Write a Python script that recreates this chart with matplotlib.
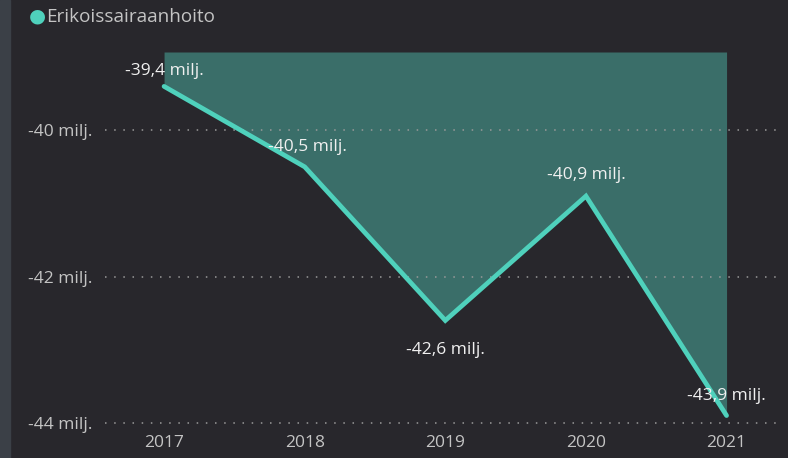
import matplotlib
matplotlib.use("Agg")
import matplotlib.pyplot as plt
from matplotlib.patches import Rectangle

years = [2017, 2018, 2019, 2020, 2021]
values = [-39.4, -40.5, -42.6, -40.9, -43.9]
labels = ["-39,4 milj.", "-40,5 milj.", "-42,6 milj.", "-40,9 milj.", "-43,9 milj."]
yticks = [-40, -42, -44]
ytick_labels = ["-40 milj.", "-42 milj.", "-44 milj."]
series_name = "Erikoissairaanhoito"

bg = "#28272c"
line_c = "#4fd1bc"
fill_c = "#3a6e69"
text_c = "#f0f0f0"
tick_c = "#c4c4c4"

plt.rcParams["font.family"] = ["Open Sans", "DejaVu Sans"]

fig = plt.figure(figsize=(7.88, 4.58), dpi=100, facecolor=bg)
ax = fig.add_axes([105 / 788, 1 - 428 / 458, 675 / 788, 376 / 458])
ax.set_facecolor(bg)

y_top = -38.93
ax.set_ylim(-44.07, y_top)
ax.set_xlim(2016.58, 2021.38)

ax.fill_between(years, values, y_top, color=fill_c, lw=0, zorder=1)
ax.plot(years, values, color=line_c, lw=3.4, solid_capstyle="round",
        solid_joinstyle="miter", zorder=3)

for y in yticks:
    ax.axhline(y, color="#9a9a9a", lw=1.1, ls=(0, (1, 5)), zorder=2)

# data labels: (dx, dy) in points
offsets = [(0, 11), (2, 14), (0, -21), (0, 15), (0, 14)]
for x, v, lab, (dx, dy) in zip(years, values, labels, offsets):
    ax.annotate(lab, (x, v), xytext=(dx, dy), textcoords="offset points",
                ha="center", va="center", color=text_c, fontsize=12.5, zorder=4)

ax.set_yticks(yticks)
ax.set_yticklabels(ytick_labels)
ax.set_xticks(years)
ax.set_xticklabels([str(y) for y in years])
ax.tick_params(length=0, colors=tick_c, labelsize=12.5)
ax.tick_params(axis="y", pad=9)
ax.tick_params(axis="x", pad=5)
for s in ax.spines.values():
    s.set_visible(False)

# legend
fig.text(37 / 788, 1 - 16 / 458, "\u25CF", color=line_c, fontsize=14,
         ha="center", va="center", family="DejaVu Sans")
fig.text(46 / 788, 1 - 17 / 458, series_name, color=tick_c, fontsize=13.6,
         ha="left", va="center")

# grey strip at left edge
fig.patches.append(Rectangle((0, 0), 10 / 788, 1, transform=fig.transFigure,
                             color="#3b4047", zorder=0))

fig.savefig("out.png", dpi=100, facecolor=bg)
